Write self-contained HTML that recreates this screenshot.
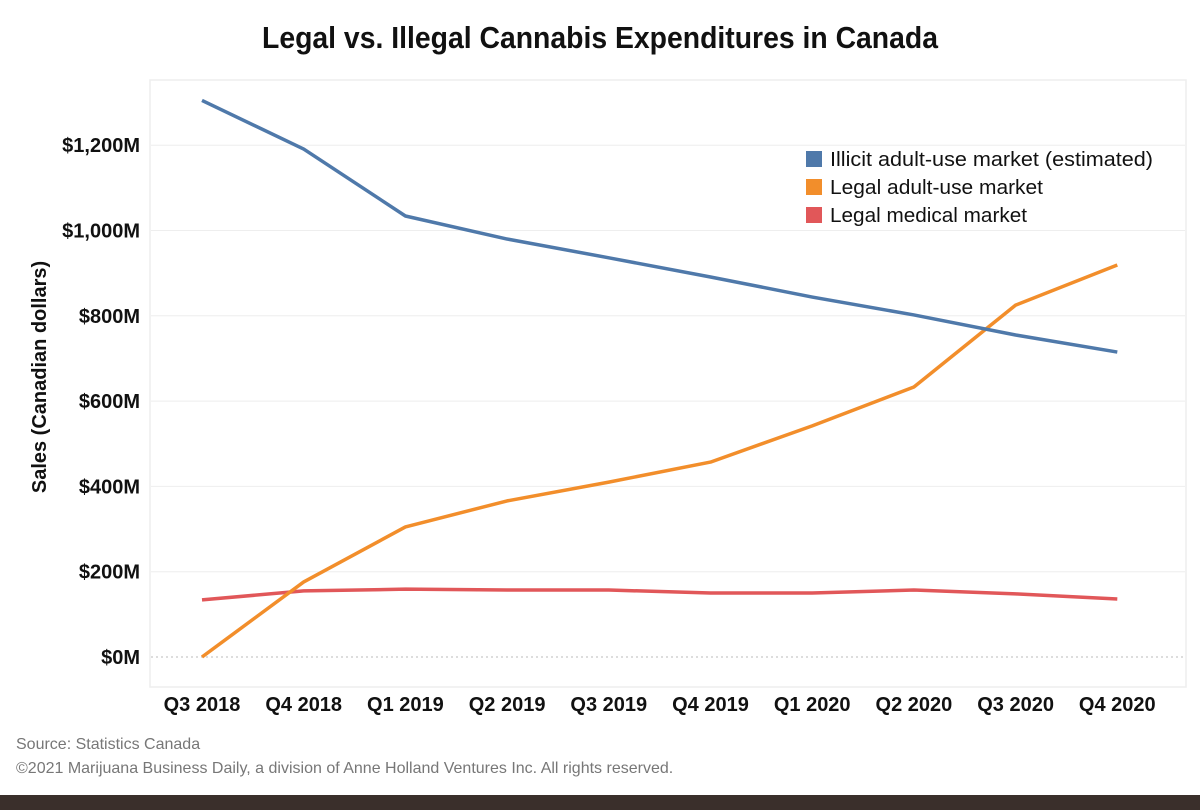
<!DOCTYPE html>
<html><head><meta charset="utf-8"><style>
body{margin:0;background:#fff;}
svg{display:block;font-family:"Liberation Sans Narrow","Liberation Sans",sans-serif;}
</style></head><body>
<svg id="chart" width="1200" height="810" viewBox="0 0 1200 810">
<rect x="0" y="0" width="1200" height="810" fill="#fff"/>
<text x="600" y="48" text-anchor="middle" font-size="31" font-weight="bold" fill="#111" textLength="676" lengthAdjust="spacingAndGlyphs">Legal vs. Illegal Cannabis Expenditures in Canada</text>
<g id="grid"></g>
<rect x="150" y="80" width="1036" height="607" fill="none" stroke="#eee" stroke-width="1.5"/>
<g id="yticks"></g><g id="xticks"></g><g id="lines"></g>
<text transform="translate(46,377) rotate(-90)" text-anchor="middle" font-size="20" font-weight="bold" fill="#111">Sales (Canadian dollars)</text>
<g>
<rect x="806" y="151" width="16" height="16" fill="#4f79aa"/>
<text x="830" y="166" font-size="20" fill="#111" textLength="323" lengthAdjust="spacingAndGlyphs">Illicit adult-use market (estimated)</text>
<rect x="806" y="179" width="16" height="16" fill="#f28e2b"/>
<text x="830" y="194" font-size="20" fill="#111" textLength="213" lengthAdjust="spacingAndGlyphs">Legal adult-use market</text>
<rect x="806" y="207" width="16" height="16" fill="#e15759"/>
<text x="830" y="222" font-size="20" fill="#111" textLength="197" lengthAdjust="spacingAndGlyphs">Legal medical market</text>
</g>
<text x="16" y="749" font-size="16" fill="#777">Source: Statistics Canada</text>
<text x="16" y="773" font-size="16" fill="#777">©2021 Marijuana Business Daily, a division of Anne Holland Ventures Inc. All rights reserved.</text>
<rect x="0" y="795" width="1200" height="15" fill="#3a2f2b"/>
</svg>
<script>
const categories=["Q3 2018","Q4 2018","Q1 2019","Q2 2019","Q3 2019","Q4 2019","Q1 2020","Q2 2020","Q3 2020","Q4 2020"];
const illicit=[1305,1191,1034,980,936,891,844,802,755,715];
const legalAdult=[0,176,305,366,410,457,542,633,825,919];
const legalMedical=[134,155,159,157,157,150,150,157,148,136];
const yTicks=[0,200,400,600,800,1000,1200];
const yTickLabels=["$0M","$200M","$400M","$600M","$800M","$1,000M","$1,200M"];
const NS="http://www.w3.org/2000/svg";
const xs=i=>202+i*101.7;
const ys=v=>657-v*(85.3/200);
function mk(tag,attrs,parent,text){const e=document.createElementNS(NS,tag);for(const k in attrs)e.setAttribute(k,attrs[k]);if(text!==undefined)e.textContent=text;document.getElementById(parent).appendChild(e);return e;}
yTicks.forEach((t,i)=>{
 const g=mk('line',{x1:151,x2:1185,y1:ys(t),y2:ys(t),stroke:t===0?'#bbb':'#eee','stroke-width':1,'stroke-dasharray':t===0?'2,3':''},'grid');
 
 
 const l=mk('text',{x:140,y:ys(t)+7,'text-anchor':'end','font-size':20,'font-weight':'bold',fill:'#111'},'yticks',yTickLabels[i]);
 
 
});
categories.forEach((c,i)=>{
 const l=mk('text',{x:xs(i),y:711,'text-anchor':'middle','font-size':20,'font-weight':'bold',fill:'#111'},'xticks',c);
 
 
});
[[legalMedical,'#e15759','line-legal-medical'],[legalAdult,'#f28e2b','line-legal-adult-use'],[illicit,'#4f79aa','line-illicit']].forEach(([d,c,n])=>{
 const p=mk('polyline',{points:d.map((v,i)=>xs(i)+','+ys(v)).join(' '),fill:'none',stroke:c,'stroke-width':3.5,'stroke-linejoin':'round'},'lines');
 
 
});
</script>
</body></html>
